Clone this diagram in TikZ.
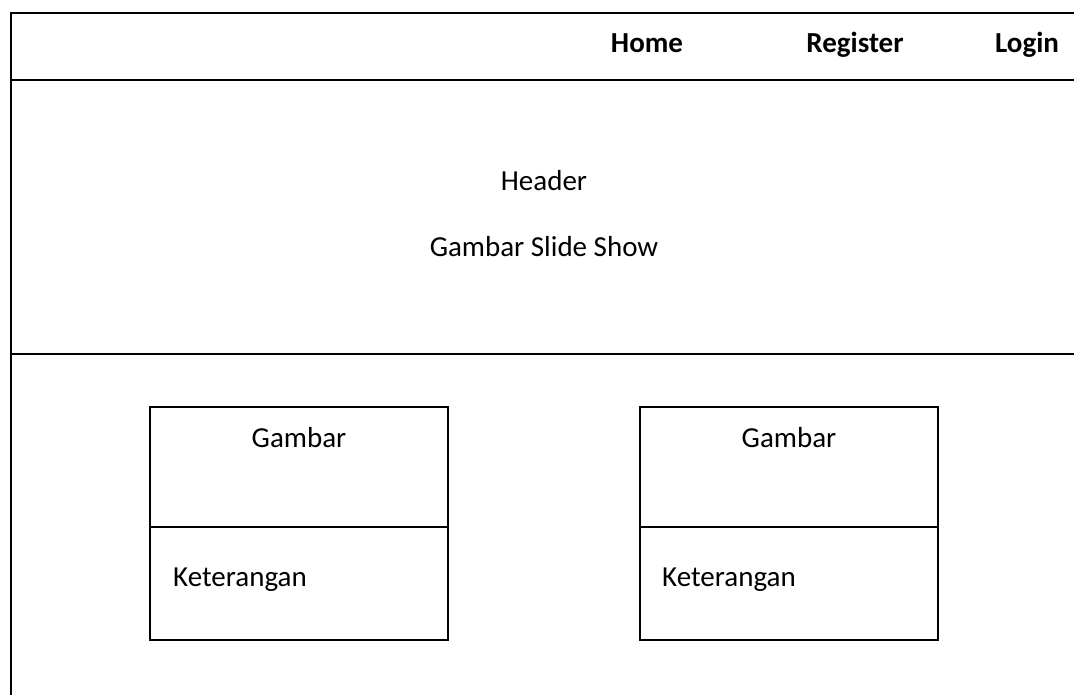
\documentclass[tikz,border=0pt]{standalone}
\usepackage{fontspec}
\setmainfont{Carlito}
\tikzset{
  frame/.style={line width=2pt, black},
  boxline/.style={line width=1.3pt, black},
  lbl/.style={font=\fontsize{29}{34}\selectfont, inner sep=0pt, anchor=base},
  menu/.style={font=\fontsize{29}{34}\selectfont\bfseries, inner sep=0pt, anchor=base}
}
\begin{document}
\begin{tikzpicture}[x=1pt,y=-1pt]
\useasboundingbox (0,0) rectangle (1074,695);
% frame
\coordinate (tl) at (11,13);
\coordinate (tr) at (1074,13);
\coordinate (bl) at (11,695);
\coordinate (ml) at (11,80);
\coordinate (mr) at (1074,80);
\coordinate (hl) at (11,354);
\coordinate (hr) at (1074,354);
\draw[frame] (tr) -- (tl) -- (bl);
\draw[frame] (ml) -- (mr);
\draw[frame] (hl) -- (hr);
% menu
\node[menu] (home) at (647,53) {Home};
\node[menu] (reg) at (855,53) {Register};
\node[menu] (login) at (1027,53) {Login};
% header
\node[lbl] (header) at (544,190.5) {Header};
\node[lbl] (slide) at (544,257) {Gambar Slide Show};
% cards
\draw[boxline] (150,407) rectangle (448,640);
\draw[boxline] (150,527) -- (448,527);
\node[lbl] (g1) at (299,447) {Gambar};
\node[lbl, anchor=base west] (k1) at (173,586) {Keterangan};
\draw[boxline] (640,407) rectangle (938,640);
\draw[boxline] (640,527) -- (938,527);
\node[lbl] (g2) at (789,447) {Gambar};
\node[lbl, anchor=base west] (k2) at (662,586) {Keterangan};
\end{tikzpicture}
\end{document}
